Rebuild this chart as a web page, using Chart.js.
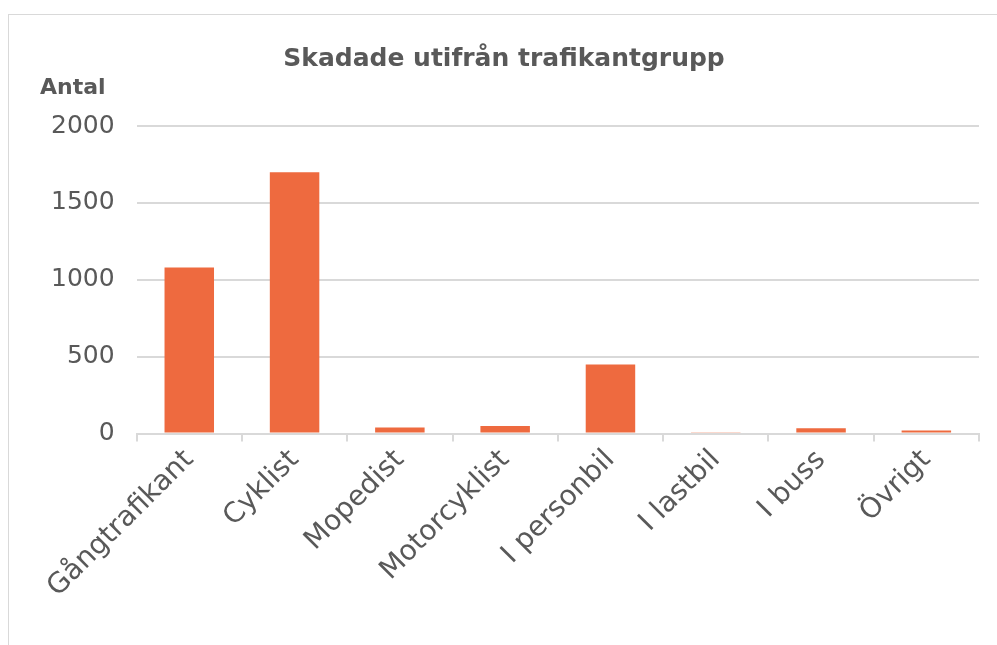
<!DOCTYPE html>
<html>
<head>
<meta charset="utf-8">
<script src="https://cdn.jsdelivr.net/npm/chart.js@4"></script>
<style>
    body { margin: 0; background: #fff; }
    #frame {
        position: absolute; left: 8px; top: 14px;
        width: 989px; height: 631px;
        border-left: 1px solid #d9d9d9; border-top: 1px solid #d9d9d9;
    }
    #chart { display: block; }
</style>
</head>
<body>
<div id="frame"><canvas id="chart" width="989" height="631"></canvas></div>
<script>
const categories = ['Gångtrafikant', 'Cyklist', 'Mopedist', 'Motorcyklist', 'I personbil', 'I lastbil', 'I buss', 'Övrigt'];
const injured = [1080, 1700, 40, 50, 450, 8, 35, 20];
const yTicks = [0, 500, 1000, 1500, 2000];

const fontFamily = "'DejaVu Sans', sans-serif";
const textColor = '#595959';
const lineColor = '#d9d9d9';

// "Antal" above the y axis labels
const unitLabel = {
    id: 'unitLabel',
    afterDraw(chart) {
        const ctx = chart.ctx;
        ctx.save();
        ctx.font = `bold 22px ${fontFamily}`;
        ctx.fillStyle = textColor;
        ctx.textAlign = 'left';
        ctx.textBaseline = 'middle';
        ctx.fillText('Antal', 31, 73);
        ctx.restore();
    }
};

new Chart(document.getElementById('chart'), {
    type: 'bar',
    data: {
        labels: categories,
        datasets: [{
            label: 'Skadade',
            data: injured,
            backgroundColor: '#ee6a3f',
            barPercentage: 0.47,
            categoryPercentage: 1
        }]
    },
    options: {
        responsive: false,
        animation: false,
        layout: { padding: { left: 20, right: 19, top: 0, bottom: 40 } },
        plugins: {
            legend: { display: false },
            tooltip: { enabled: false },
            title: {
                display: true,
                text: 'Skadade utifrån trafikantgrupp',
                color: textColor,
                font: { family: fontFamily, size: 25, weight: 'bold' },
                padding: { top: 29, bottom: 52 }
            }
        },
        scales: {
            x: {
                offset: true,
                border: { color: lineColor, width: 2 },
                grid: { drawOnChartArea: false, drawTicks: true, tickLength: 8, color: lineColor, lineWidth: 2 },
                ticks: {
                    color: textColor,
                    font: { family: fontFamily, size: 28 },
                    maxRotation: 45,
                    minRotation: 45,
                    padding: 2
                }
            },
            y: {
                min: 0,
                max: 2000,
                border: { display: false },
                grid: { color: lineColor, lineWidth: 2, drawTicks: false },
                afterBuildTicks: (scale) => { scale.ticks = yTicks.map(v => ({ value: v })); },
                ticks: {
                    color: textColor,
                    font: { family: fontFamily, size: 25 },
                    padding: 22,
                    callback: (value) => String(value)
                }
            }
        }
    },
    plugins: [unitLabel]
});
</script>
</body>
</html>
